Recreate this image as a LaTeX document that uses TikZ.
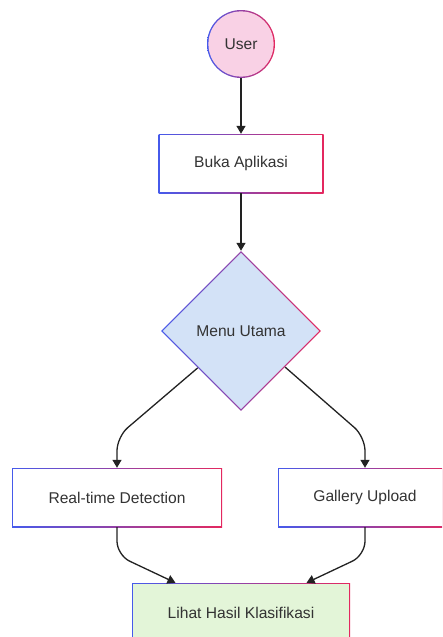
\documentclass[tikz,border=0pt]{standalone}
\usepackage{fontspec}
\setmainfont{Liberation Sans}
\usetikzlibrary{shapes.geometric,arrows.meta,calc}
\definecolor{bblue}{RGB}{70,90,235}
\definecolor{bred}{RGB}{228,40,95}
\definecolor{userfill}{RGB}{249,209,229}
\definecolor{menufill}{RGB}{211,226,247}
\definecolor{lihatfill}{RGB}{227,245,216}
\definecolor{textgray}{RGB}{51,51,51}
\definecolor{edgecol}{RGB}{34,34,34}
\begin{document}
\begin{tikzpicture}[x=1pt,y=-1pt,
  outer/.style={shade, shading=axis, left color=bblue, right color=bred, draw=none, inner sep=0pt},
  innerbox/.style={draw=none, inner sep=0pt, text=textgray, font=\fontsize{15.6}{18}\selectfont},
  edge/.style={draw=edgecol, line width=1.3pt, -{Triangle[width=9pt,length=8pt]}, rounded corners=14pt}]
\useasboundingbox (0,0) rectangle (442,637);
\clip (0,0) rectangle (442,637);
% User
\node[outer, circle, minimum size=68pt] (userO) at (241,44) {};
\node[innerbox, circle, fill=userfill, minimum size=65.2pt] (user) at (userO) {User};
% Buka Aplikasi
\node[outer, rectangle, minimum width=165pt, minimum height=59pt] (bukaO) at (241,163.5) {};
\node[innerbox, rectangle, fill=white, minimum width=162.4pt, minimum height=56.4pt] (buka) at (bukaO) {Buka Aplikasi};
% Menu Utama
\node[outer, diamond, minimum width=160pt, minimum height=160pt] (menuO) at (241,331) {};
\node[innerbox, diamond, fill=menufill, minimum width=156.3pt, minimum height=156.3pt] (menu) at (menuO) {};
\node[innerbox] (menutext) at (menuO) {Menu Utama};
% Real-time Detection
\node[outer, rectangle, minimum width=210pt, minimum height=59pt] (rtO) at (117,497.5) {};
\node[innerbox, rectangle, fill=white, minimum width=207.4pt, minimum height=56.4pt] (rt) at (rtO) {Real-time Detection};
% Gallery Upload
\node[outer, rectangle, minimum width=174pt, minimum height=59pt] (galO) at (365,497.5) {};
\node[innerbox, rectangle, fill=white, minimum width=171.4pt, minimum height=56.4pt] (gal) at (galO) {Gallery Upload};
% Lihat Hasil Klasifikasi
\node[outer, rectangle, minimum width=218pt, minimum height=59pt] (lihatO) at (241,612.5) {};
\node[innerbox, rectangle, fill=lihatfill, minimum width=215.4pt, minimum height=56.4pt] (lihat) at (lihatO) {Lihat Hasil Klasifikasi};
% Edges
\draw[edge] (userO) -- (bukaO);
\draw[edge] (bukaO) -- (menuO);
\draw[edge] ($(menuO.west)!0.46!(menuO.south)$) -- ([yshift=31pt]rtO.north) -- (rtO.north);
\draw[edge] ($(menuO.east)!0.45!(menuO.south)$) -- ([yshift=31pt]galO.north) -- (galO.north);
\draw[edge] (rtO.south) -- ([yshift=-28pt]rtO.south) -- ($(lihatO.north west)!0.2!(lihatO.north east)$);
\draw[edge] (galO.south) -- ([yshift=-28pt]galO.south) -- ($(lihatO.north west)!0.8!(lihatO.north east)$);
\end{tikzpicture}
\end{document}
